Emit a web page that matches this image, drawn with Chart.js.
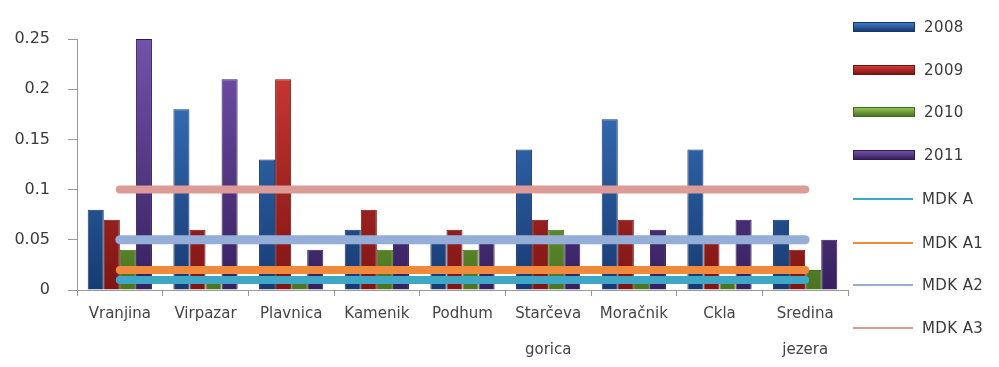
<!DOCTYPE html>
<html>
<head>
<meta charset="utf-8">
<script src="https://cdn.jsdelivr.net/npm/chart.js@4/dist/chart.umd.min.js"></script>
<style>
  html, body { margin: 0; padding: 0; background: #fff; }
  #wrap { position: relative; width: 999px; height: 367px; }
  #chart { position: absolute; left: 0; top: 0; }
  #legend { position: absolute; left: 853px; top: 0; width: 146px; height: 367px; }
  .item { position: absolute; left: 0; height: 20px; display: flex; align-items: center;
          font-family: "DejaVu Sans", sans-serif; font-size: 15px; color: #3a3a3a; letter-spacing: 0.4px; }
  .sw { width: 60px; margin-right: 9px; }
</style>
</head>
<body>
<div id="wrap">
  <canvas id="chart" width="999" height="367"></canvas>
  <div id="legend"></div>
</div>
<script>
// Sampling sites along the lake
const categories = ['Vranjina', 'Virpazar', 'Plavnica', 'Kamenik', 'Podhum',
  ['Starčeva', 'gorica'], 'Moračnik', 'Ckla', ['Sredina', 'jezera']];

// Measured values per year
const values2008 = [0.08, 0.18, 0.13, 0.06, 0.05, 0.14, 0.17, 0.14, 0.07];
const values2009 = [0.07, 0.06, 0.21, 0.08, 0.06, 0.07, 0.07, 0.05, 0.04];
const values2010 = [0.04, 0.01, 0.01, 0.04, 0.04, 0.06, 0.01, 0.01, 0.02];
const values2011 = [0.25, 0.21, 0.04, 0.05, 0.05, 0.05, 0.06, 0.07, 0.05];

// Limit values (MDK) for the water classes
const mdkA  = [0.01, 0.01, 0.01, 0.01, 0.01, 0.01, 0.01, 0.01, 0.01];
const mdkA1 = [0.02, 0.02, 0.02, 0.02, 0.02, 0.02, 0.02, 0.02, 0.02];
const mdkA2 = [0.05, 0.05, 0.05, 0.05, 0.05, 0.05, 0.05, 0.05, 0.05];
const mdkA3 = [0.10, 0.10, 0.10, 0.10, 0.10, 0.10, 0.10, 0.10, 0.10];

const yTicks = [0, 0.05, 0.1, 0.15, 0.2, 0.25];

// Bar palette: light top, dark bottom, plus a darker outline
const barStyles = {
  '2008': { top: '#3d7cc9', bottom: '#173a72', edge: '#173566' },
  '2009': { top: '#d23c37', bottom: '#7e1514', edge: '#6e1412' },
  '2010': { top: '#93c452', bottom: '#4a7420', edge: '#446a1e' },
  '2011': { top: '#7352ab', bottom: '#36205e', edge: '#2f1c52' }
};
const lineColors = {
  'MDK A': '#3fa7c6',
  'MDK A1': '#f0893b',
  'MDK A2': '#94aed8',
  'MDK A3': '#dc9b97'
};

function barFill(key) {
  const s = barStyles[key];
  return (ctx) => {
    const area = ctx.chart.chartArea;
    if (!area) return s.top;
    const g = ctx.chart.ctx.createLinearGradient(0, area.top, 0, area.bottom);
    g.addColorStop(0, s.top);
    g.addColorStop(1, s.bottom);
    return g;
  };
}

function barSet(label, data) {
  return {
    type: 'bar', label, data, order: 1,
    backgroundColor: barFill(label),
    borderColor: barStyles[label].edge,
    borderWidth: 1,
    categoryPercentage: 0.75,
    barPercentage: 1.0
  };
}

function lineSet(label, data, width) {
  return {
    type: 'line', label, data, order: 0,
    borderColor: lineColors[label],
    backgroundColor: lineColors[label],
    borderWidth: width,
    borderCapStyle: 'round',
    pointRadius: 0,
    pointHoverRadius: 0,
    fill: false,
    tension: 0
  };
}

const chart = new Chart(document.getElementById('chart'), {
  data: {
    labels: categories,
    datasets: [
      barSet('2008', values2008),
      barSet('2009', values2009),
      barSet('2010', values2010),
      barSet('2011', values2011),
      lineSet('MDK A', mdkA, 8),
      lineSet('MDK A1', mdkA1, 8),
      lineSet('MDK A2', mdkA2, 9),
      lineSet('MDK A3', mdkA3, 8)
    ]
  },
  options: {
    responsive: false,
    animation: false,
    layout: { padding: { top: 39, right: 151, bottom: 0, left: 0 } },
    plugins: { legend: { display: false }, tooltip: { enabled: false } },
    scales: {
      x: {
        offset: true,
        grid: { display: true, drawOnChartArea: false, drawTicks: true, tickLength: 6, color: '#9a9a9a' },
        border: { display: true, color: '#9a9a9a' },
        ticks: {
          padding: 0, maxRotation: 0, autoSkip: false, color: '#444',
          font: { family: 'DejaVu Sans', size: 15, lineHeight: 2.4 }
        },
        afterFit: (scale) => { scale.height = 77; }
      },
      y: {
        min: 0, max: 0.25,
        afterBuildTicks: (scale) => { scale.ticks = yTicks.map(v => ({ value: v })); },
        grid: { display: true, drawOnChartArea: false, drawTicks: true, tickLength: 9, color: '#9a9a9a' },
        border: { display: true, color: '#9a9a9a' },
        ticks: {
          padding: 18, color: '#3a3a3a',
          font: { family: 'DejaVu Sans', size: 16 },
          callback: (v) => String(+Number(v).toFixed(2))
        },
        afterFit: (scale) => { scale.width = 77; }
      }
    }
  }
});

// Legend column on the right
const legendRows = [
  { label: '2008', kind: 'bar' }, { label: '2009', kind: 'bar' },
  { label: '2010', kind: 'bar' }, { label: '2011', kind: 'bar' },
  { label: 'MDK A', kind: 'line' }, { label: 'MDK A1', kind: 'line' },
  { label: 'MDK A2', kind: 'line' }, { label: 'MDK A3', kind: 'line' }
];
const legendCenters = [27, 70, 112, 155, 199, 243, 285, 328];
const legendEl = document.getElementById('legend');
legendRows.forEach((row, i) => {
  const item = document.createElement('div');
  item.className = 'item';
  item.style.top = (legendCenters[i] - 10) + 'px';
  const sw = document.createElement('div');
  sw.className = 'sw';
  if (row.kind === 'bar') {
    const s = barStyles[row.label];
    sw.style.height = '8px';
    sw.style.background = 'linear-gradient(' + s.top + ',' + s.bottom + ')';
    sw.style.border = '1px solid ' + s.edge;
  } else {
    sw.style.height = '2px';
    sw.style.background = lineColors[row.label];
  }
  const tx = document.createElement('span');
  tx.textContent = row.label;
  item.appendChild(sw);
  item.appendChild(tx);
  legendEl.appendChild(item);
});
</script>
</body>
</html>
